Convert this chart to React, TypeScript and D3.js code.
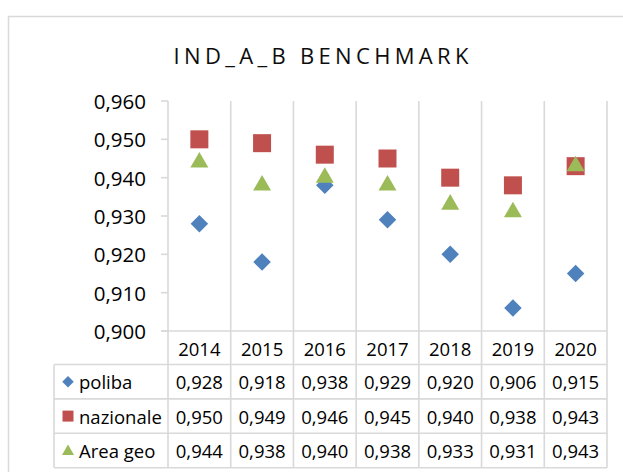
import React from 'react';
import * as d3 from 'd3';

const years = ['2014', '2015', '2016', '2017', '2018', '2019', '2020'];
const poliba = [0.928, 0.918, 0.938, 0.929, 0.92, 0.906, 0.915];
const nazionale = [0.95, 0.949, 0.946, 0.945, 0.94, 0.938, 0.943];
const areaGeo = [0.944, 0.938, 0.94, 0.938, 0.933, 0.931, 0.943];
const yTicks = [0.9, 0.91, 0.92, 0.93, 0.94, 0.95, 0.96];

const series = [
  { name: 'poliba', values: poliba, color: '#4f81bd', shape: 'diamond' },
  { name: 'nazionale', values: nazionale, color: '#c0504d', shape: 'square' },
  { name: 'Area geo', values: areaGeo, color: '#9bbb59', shape: 'triangle' },
];

const W = 623;
const H = 472;
const FONT = '"Open Sans", "Noto Sans", sans-serif';
const GRID = '#d9d9d9';

const fmt = (v: number) => d3.format('.3f')(v).replace('.', ',');

// marker path for a given shape and overall width
function markerPath(shape: string, w: number) {
  if (shape === 'square') return d3.symbol(d3.symbolSquare, w * w)()!;
  if (shape === 'diamond') return d3.symbol(d3.symbolSquare, (w * w) / 2)()!;
  return d3.symbol(d3.symbolTriangle, (Math.sqrt(3) / 4) * w * w)()!;
}

export default function App() {
  const x = d3.scaleBand<string>().domain(years).range([168, 607]);
  const y = d3.scaleLinear().domain([0.9, 0.96]).range([331, 101]);

  const tableTop = y(0.9);
  const headerH = 33.5;
  const rowH = 34.4;
  const labelLeft = 54;
  const tableBottom = tableTop + headerH + rowH * series.length;

  const bounds = [...years.map((d) => x(d)!), x.range()[1]];

  return (
    <svg
      width={W}
      height={H}
      style={{ position: 'absolute', left: 0, top: 0, background: '#fff' }}
      fontFamily={FONT}
    >
      <rect x={8.5} y={16.5} width={640} height={480} fill="#fff" stroke={GRID} strokeWidth={1.5} />

      <text
        x={321}
        y={55}
        textAnchor="middle"
        dominantBaseline="central"
        fontSize={22}
        fill="#0d0d0d"
        textLength={295}
        lengthAdjust="spacing"
      >
        IND_A_B BENCHMARK
      </text>

      {/* vertical grid lines through plot and table */}
      {bounds.map((bx, i) => (
        <line
          key={'v' + i}
          x1={bx}
          x2={bx}
          y1={y(0.96)}
          y2={tableBottom}
          stroke={GRID}
          strokeWidth={1.6}
        />
      ))}

      {/* y ticks */}
      {yTicks.map((t) => (
        <g key={t}>
          <line x1={161} x2={168} y1={y(t)} y2={y(t)} stroke={GRID} strokeWidth={1.6} />
          <text
            x={146}
            y={y(t)}
            textAnchor="end"
            dominantBaseline="central"
            fontSize={20.5}
            fill="#000"
          >
            {fmt(t)}
          </text>
        </g>
      ))}

      {/* table horizontal lines */}
      <line x1={161} x2={607} y1={tableTop} y2={tableTop} stroke={GRID} strokeWidth={1.6} />
      {series.map((s, i) => (
        <line
          key={'h' + i}
          x1={labelLeft}
          x2={607}
          y1={tableTop + headerH + rowH * i}
          y2={tableTop + headerH + rowH * i}
          stroke={GRID}
          strokeWidth={1.6}
        />
      ))}
      <line x1={labelLeft} x2={607} y1={tableBottom} y2={tableBottom} stroke={GRID} strokeWidth={1.6} />
      <line
        x1={labelLeft}
        x2={labelLeft}
        y1={tableTop + headerH}
        y2={tableBottom}
        stroke={GRID}
        strokeWidth={1.6}
      />

      {/* year header */}
      {years.map((yr) => (
        <text
          key={yr}
          x={x(yr)! + x.bandwidth() / 2}
          y={tableTop + headerH / 2 + 1}
          textAnchor="middle"
          dominantBaseline="central"
          fontSize={18.5}
          fill="#000"
        >
          {yr}
        </text>
      ))}

      {/* rows */}
      {series.map((s, i) => {
        const cy = tableTop + headerH + rowH * i + rowH / 2;
        return (
          <g key={s.name}>
            <path
              d={markerPath(s.shape, s.shape === 'diamond' ? 11.5 : s.shape === 'square' ? 11 : 12)}
              transform={`translate(68,${cy + (s.shape === 'triangle' ? 1 : 0)})${s.shape === 'diamond' ? ' rotate(45)' : ''}`}
              fill={s.color}
            />
            <text x={79} y={cy} dominantBaseline="central" fontSize={18.5} fill="#000">
              {s.name}
            </text>
            {s.values.map((v, j) => (
              <text
                key={j}
                x={x(years[j])! + x.bandwidth() / 2}
                y={cy}
                textAnchor="middle"
                dominantBaseline="central"
                fontSize={18.5}
                fill="#000"
              >
                {fmt(v)}
              </text>
            ))}
          </g>
        );
      })}

      {/* markers */}
      {series.map((s) => (
        <g key={'m' + s.name} fill={s.color}>
          {s.values.map((v, j) => (
            <path
              key={j}
              d={markerPath(s.shape, s.shape === 'diamond' ? 17.5 : 18)}
              transform={`translate(${x(years[j])! + x.bandwidth() / 2},${y(v)})${s.shape === 'diamond' ? ' rotate(45)' : ''}`}
            />
          ))}
        </g>
      ))}
    </svg>
  );
}
